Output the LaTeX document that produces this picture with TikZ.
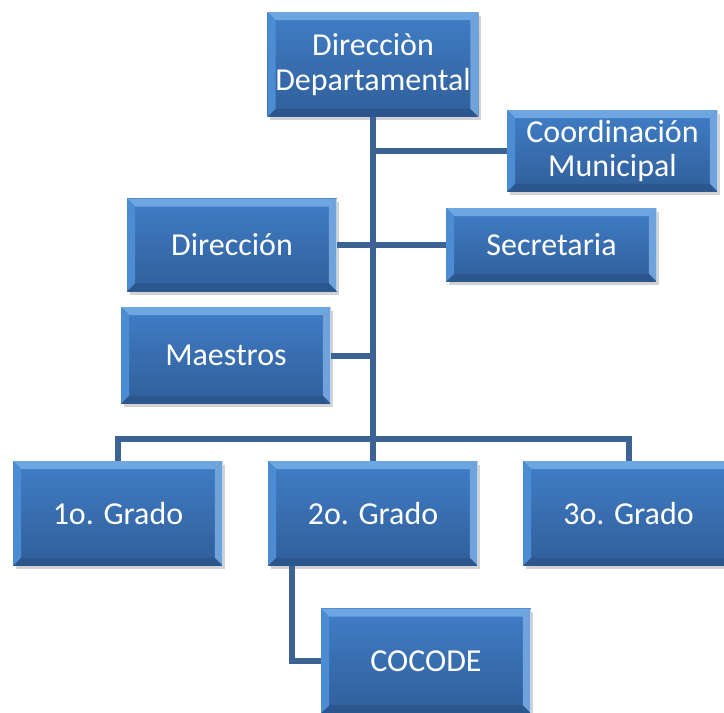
\documentclass[tikz,border=0pt]{standalone}
\usepackage{fontspec}
\newfontfamily\unitfont{Carlito}
\usetikzlibrary{shadows}
\definecolor{boxtop}{RGB}{64,126,198}
\definecolor{boxbot}{RGB}{48,94,154}
\definecolor{bevlight}{RGB}{110,166,226}
\definecolor{bevside}{RGB}{76,140,210}
\definecolor{bevdark}{RGB}{44,86,142}
\definecolor{wire}{RGB}{60,99,148}
\tikzset{
  unit/.style={shading=axis,top color=boxtop,bottom color=boxbot,text=white,
    font={\unitfont\fontsize{18.2}{19.5}\selectfont},align=center,
    minimum width=4.22cm,inner sep=2pt,
    drop shadow={shadow xshift=0.05cm,shadow yshift=-0.07cm,opacity=0.25,fill=black!70},
    path picture={
      \fill[bevlight] (path picture bounding box.north west) -- (path picture bounding box.north east)
        -- ([shift={(-0.16cm,-0.16cm)}]path picture bounding box.north east)
        -- ([shift={(0.16cm,-0.16cm)}]path picture bounding box.north west) -- cycle;
      \fill[bevside] (path picture bounding box.north west) -- (path picture bounding box.south west)
        -- ([shift={(0.16cm,0.16cm)}]path picture bounding box.south west)
        -- ([shift={(0.16cm,-0.16cm)}]path picture bounding box.north west) -- cycle;
      \fill[bevside!80!white] (path picture bounding box.north east) -- (path picture bounding box.south east)
        -- ([shift={(-0.16cm,0.16cm)}]path picture bounding box.south east)
        -- ([shift={(-0.16cm,-0.16cm)}]path picture bounding box.north east) -- cycle;
      \fill[bevdark] (path picture bounding box.south west) -- (path picture bounding box.south east)
        -- ([shift={(-0.16cm,0.16cm)}]path picture bounding box.south east)
        -- ([shift={(0.16cm,0.16cm)}]path picture bounding box.south west) -- cycle;
      \draw[white!50!bevlight,line width=0.8pt] (path picture bounding box.south east) -- (path picture bounding box.north east);
    }},
  wires/.style={wire,line width=0.12cm}
}
\begin{document}
\begin{tikzpicture}[x=0.02cm,y=-0.02cm]
\clip (0,0) rectangle (724,713);
\fill[white] (0,0) rectangle (724,713);
\coordinate (bus) at (373,439);
\node[unit,minimum height=2.1cm] (dd) at (373,64.5) {Direcciòn\\Departamental};
\node[unit,minimum height=1.64cm] (coord) at (612.5,151) {Coordinación\\Municipal};
\node[unit,minimum width=4.2cm,minimum height=1.86cm] (dir) at (232,245) {Dirección};
\node[unit,minimum height=1.48cm] (sec) at (551.5,245) {Secretaria};
\node[unit,minimum width=4.2cm,minimum height=1.94cm] (mae) at (226,355.5) {Maestros};
\node[unit,minimum width=4.2cm,minimum height=2.1cm] (g1) at (118,513.5) {1o. Grado};
\node[unit,minimum width=4.2cm,minimum height=2.1cm] (g2) at (373,513.5) {2o. Grado};
\node[unit,minimum height=2.1cm] (g3) at (628.5,513.5) {3o. Grado};
\node[unit,minimum width=4.2cm,minimum height=2.1cm] (coc) at (426,661) {COCODE};
\draw[wires] (dd.south) -- (g2.north);
\draw[wires] (coord.west) -- (coord.west -| dd.south);
\draw[wires] (dir.east) -- (sec.west);
\draw[wires] (mae.east) -- (mae.east -| dd.south);
\draw[wires] (g1.north) |- (bus) -| (g3.north);
\draw[wires] ([xshift=-1.62cm]g2.south) |- (coc.west);
\end{tikzpicture}
\end{document}
